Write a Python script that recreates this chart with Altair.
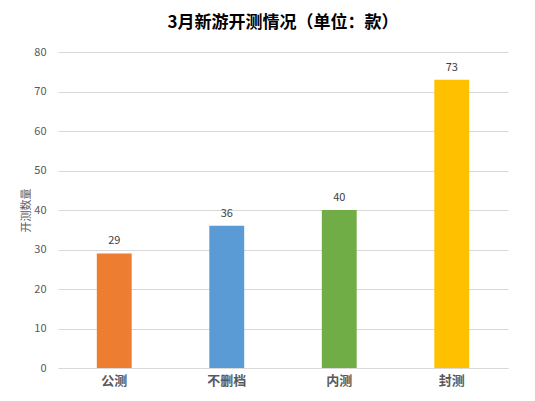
import altair as alt
import pandas as pd

categories = ["公测", "不删档", "内测", "封测"]
values = [29, 36, 40, 73]
colors = ["#ED7D31", "#5B9BD5", "#70AD47", "#FFC000"]

df = pd.DataFrame({"类型": categories, "数量": values})

font = "Noto Sans CJK SC"

base = alt.Chart(df).encode(
    x=alt.X("类型:N", sort=categories, title=None,
            scale=alt.Scale(paddingInner=0.69, paddingOuter=0.345),
            axis=alt.Axis(labelAngle=0, labelFontSize=13, labelFontWeight="bold",
                          labelColor="#595959", ticks=False, domain=True,
                          domainColor="#d9d9d9", labelPadding=6, labelFont=font)),
    y=alt.Y("数量:Q", title="开测数量",
            scale=alt.Scale(domain=[0, 80]),
            axis=alt.Axis(values=list(range(0, 81, 10)), labelFontSize=11,
                          labelColor="#595959", ticks=False, domain=False,
                          gridColor="#d9d9d9", titleFontSize=11,
                          titleColor="#595959", titleFontWeight="normal",
                          labelPadding=12, titlePadding=2, titleFont=font,
                          labelFont=font)),
)

bars = base.mark_bar().encode(
    color=alt.Color("类型:N", sort=categories,
                    scale=alt.Scale(domain=categories, range=colors),
                    legend=None)
)

text = base.mark_text(dy=-12, fontSize=11, color="#404040", font=font).encode(
    text="数量:Q"
)

chart = (bars + text).properties(
    width=450,
    height=316,
    title=alt.TitleParams("3月新游开测情况（单位：款）", fontSize=17,
                          fontWeight="bold", color="#000000", font=font,
                          anchor="middle", offset=14),
    padding={"left": 50, "top": 44, "right": 10, "bottom": 25},
    autosize=alt.AutoSizeParams(type="none"),
    background="white",
).configure_view(stroke=None)

chart.save("out.html", embed_options={"renderer": "svg", "actions": False})
